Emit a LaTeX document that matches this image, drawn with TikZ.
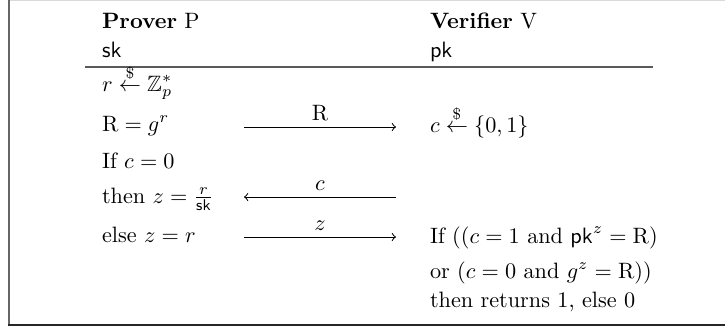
\documentclass[tikz,border=0pt]{standalone}
\usepackage{amsmath,amssymb}
\begin{document}
\begin{tikzpicture}[x=0.45pt,y=-0.45pt,
  txt/.style={anchor=base west,inner sep=0pt,outer sep=0pt},
  msg/.style={line width=0.45pt,-to},
  lbl/.style={above,inner sep=2.5pt},
  frame/.style={line width=0.9pt,draw=black!60},
  rule/.style={line width=0.7pt,draw=black!65}]
\useasboundingbox (0,0) rectangle (725,329);
% frame
\draw[line width=0.5pt,draw=black!15] (9,0.5) -- (725,0.5);
\draw[frame] (8.5,0) -- (8.5,324.5);
\draw[line width=0.9pt,draw=black!85] (8,324.5) -- (725,324.5);
% headers
\node[txt] (prov) at (102,28) {\textbf{Prover} $\mathrm{P}$};
\node[txt] (sk) at (102,57) {$\mathsf{sk}$};
\node[txt] (verif) at (430,28) {\textbf{Verifier} $\mathrm{V}$};
\node[txt] (pk) at (430,57) {$\mathsf{pk}$};
\coordinate (ruleL) at (85,67);
\coordinate (ruleR) at (653,67);
\draw[rule] (ruleL) -- (ruleR);
% prover side
\node[txt] (p1) at (102,91) {$r \overset{\$}{\leftarrow} \mathbb{Z}_p^*$};
\node[txt] (p2) at (102,131) {$\mathrm{R} = g^r$};
\node[txt] (p3) at (102,168) {If $c = 0$};
\node[txt] (p4) at (102,203) {then $z = \frac{r}{\mathsf{sk}}$};
\node[txt] (p5) at (102,242) {else $z = r$};
% verifier side
\node[txt] (v1) at (430,132) {$c \overset{\$}{\leftarrow} \{0,1\}$};
\node[txt] (v2) at (430,243) {If (($c = 1$ and $\mathsf{pk}^z = \mathrm{R}$)};
\node[txt] (v3) at (430,278) {or ($c = 0$ and $g^z = \mathrm{R}$))};
\node[txt] (v4) at (430,307) {then returns 1, else 0};
% messages
\coordinate (aL) at (244,127);
\coordinate (aR) at (396,127);
\coordinate (bL) at (244,197);
\coordinate (bR) at (396,197);
\coordinate (cL) at (244,237);
\coordinate (cR) at (396,237);
\draw[msg] (aL) -- node[lbl] (mR) {$\mathrm{R}$} (aR);
\draw[msg] (bR) -- node[lbl] (mc) {$c$} (bL);
\draw[msg] (cL) -- node[lbl] (mz) {$z$} (cR);
\end{tikzpicture}
\end{document}
